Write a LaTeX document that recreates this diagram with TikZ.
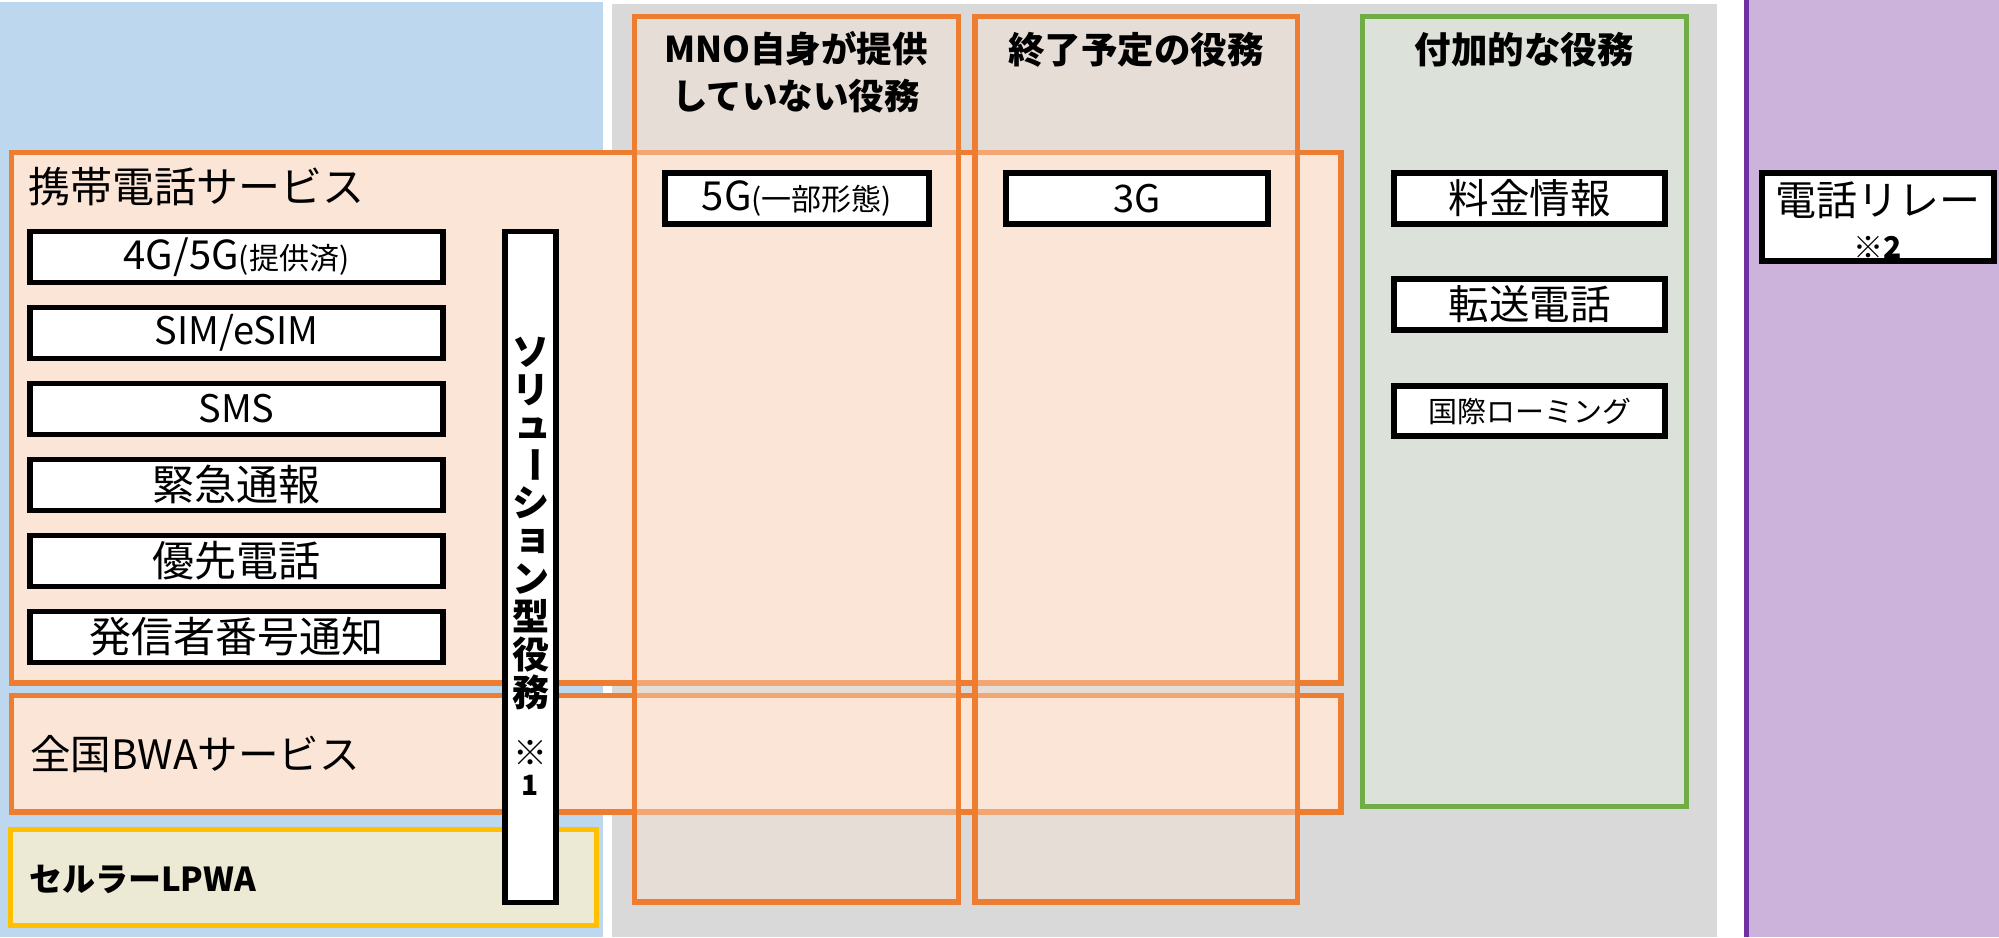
\documentclass[tikz,border=0pt]{standalone}
\usepackage{fontspec}
\setmainfont{Noto Sans CJK JP}
\definecolor{bgblue}{HTML}{BDD7EE}
\definecolor{bggray}{HTML}{D9D9D9}
\definecolor{bgpurple}{HTML}{CBB3DB}
\definecolor{purpleline}{HTML}{7030A0}
\definecolor{orangeC}{HTML}{ED7D31}
\definecolor{peach}{HTML}{FBE5D6}
\definecolor{yellowC}{HTML}{FFC000}
\definecolor{beige}{HTML}{ECE9D4}
\definecolor{greenC}{HTML}{70AD47}
\definecolor{greenfill}{HTML}{DCE1DA}
\begin{document}
\begin{tikzpicture}[x=1pt,y=-1pt,
  fs/.style={font=\fontsize{#1}{#1}\selectfont},
  fsb/.style={font=\fontsize{#1}{#1}\selectfont\bfseries},
  wbox/.style={draw=black, fill=white, line width=5.5pt, inner sep=0pt, outer sep=0pt},
  rowbox/.style={draw=orangeC, fill=peach, line width=5.5pt, inner sep=0pt, outer sep=0pt, anchor=north west},
  colbox/.style={draw=orangeC, fill=peach, fill opacity=0.4, draw opacity=1, line width=5.5pt, inner sep=0pt, outer sep=0pt, anchor=north west},
  lbl/.style={inner sep=0pt, outer sep=0pt}
]
\useasboundingbox (0,0) rectangle (1999,937);
% backgrounds
\fill[bgblue] (0,2) rectangle (603,937);
\fill[bggray] (612,4) rectangle (1717,937);
\fill[bgpurple] (1746,0) rectangle (1999,937);
\draw[purpleline, line width=5pt] (1746,0) -- (1746,937);

% rows
\node[rowbox, minimum width=1329.5pt, minimum height=530.5pt] (mobile) at (11.5,152.5) {};
\node[rowbox, minimum width=1329.5pt, minimum height=116.5pt] (bwa) at (11.5,695.5) {};
\node[draw=yellowC, fill=beige, line width=5pt, inner sep=0pt, outer sep=0pt, anchor=north west,
      minimum width=586pt, minimum height=95.5pt] (lpwa) at (10.5,829.5) {};

% columns
\node[colbox, minimum width=324pt, minimum height=885.5pt] (mno) at (634.5,16.5) {};
\node[colbox, minimum width=322.5pt, minimum height=885.5pt] (end) at (975,16.5) {};
\node[draw=greenC, fill=greenfill, line width=5pt, inner sep=0pt, outer sep=0pt, anchor=north west,
      minimum width=323.5pt, minimum height=789.5pt] (add) at (1362.5,16.5) {};

% titles
\node[lbl, align=center, font=\fontsize{35.5}{47}\selectfont\bfseries] (mnot) at (796,72) {MNO自身が提供\\していない役務};
\node[lbl, fsb=36.5] (endt) at (1136,50) {終了予定の役務};
\node[lbl, fsb=36.5] (addt) at (1524,50) {付加的な役務};

% row labels
\node[lbl, fs=42, anchor=west] (mobilet) at (28,187) {携帯電話サービス};
\node[lbl, fs=40.5, anchor=west] (bwat) at (30,754) {全国BWAサービス};
\node[lbl, fsb=33, anchor=west] (lpwat) at (29,879) {セルラーLPWA};

% left boxes
\foreach \t/\k/\s in {{{\fontsize{40}{40}\selectfont 4G/5G}{\fontsize{30}{30}\selectfont (提供済)}}/0/40,
                   {SIM/eSIM}/1/38, {SMS}/2/38, {緊急通報}/3/42, {優先電話}/4/42, {発信者番号通知}/5/42}{
  \node[wbox, fs=\s, minimum width=413pt, minimum height=51pt] (lb\k) at (236.5,257+76*\k) {\t};
}

% column items
\node[wbox, fs=40, minimum width=264pt, minimum height=51pt] (g5) at (797,198.5) {5G{\fontsize{30}{30}\selectfont (一部形態)}};
\node[wbox, fs=38, minimum width=262pt, minimum height=51pt] (g3) at (1137,198.5) {3G};
\node[wbox, fs=40.5, minimum width=271pt, minimum height=51pt] (fee) at (1529.5,198.5) {料金情報};
\node[wbox, fs=40.5, minimum width=271pt, minimum height=51pt] (fwd) at (1529.5,304.5) {転送電話};
\node[wbox, fs=29, minimum width=271pt, minimum height=50pt] (roam) at (1529.5,411) {国際ローミング};

% relay
\node[wbox, minimum width=232pt, minimum height=88pt] (relay) at (1878,217) {};
\node[lbl, fs=41] (relayt) at (1878,200) {電話リレー};
\node[lbl, fsb=30] (relayn) at (1878,247) {※2};

% solution box
\node[wbox, anchor=north west, minimum width=51pt, minimum height=671pt] (sol) at (505,231.5) {};
\foreach \c/\k in {ソ/0,リ/1,シ/4,ン/6,型/7,役/8,務/9}{
  \node[lbl, fsb=37] (s\k) at (530.5,352+37.8*\k) {\c};
}
\node[lbl, fsb=37] (s2) at (533,428) {ュ};
\node[lbl, fsb=37, rotate=-90] (s3) at (530.5,465.4) {ー};
\node[lbl, fsb=37] (s5) at (533,541) {ョ};
\node[lbl, fsb=34] (sx) at (530.5,753) {※};
\node[lbl, fsb=28] (sy) at (530.5,785) {1};
\end{tikzpicture}
\end{document}
